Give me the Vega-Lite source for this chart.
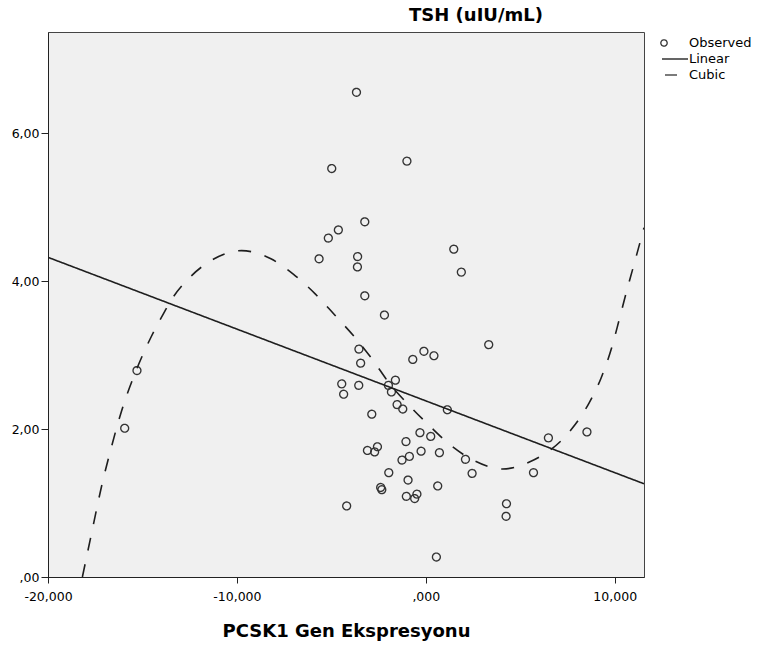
{
  "$schema": "https://vega.github.io/schema/vega-lite/v6.json",
  "autosize": "none",
  "width": 596,
  "height": 545,
  "padding": {"left": 48, "top": 32, "right": 113, "bottom": 71},
  "background": "white",
  "config": {
    "font": "DejaVu Sans",
    "view": {"fill": "#F0F0F0", "stroke": "#444444", "strokeWidth": 1},
    "axis": {
      "grid": false,
      "domainColor": "#222222",
      "tickColor": "#222222",
      "labelColor": "#000000",
      "labelFont": "DejaVu Sans",
      "labelFontSize": 12.5
    }
  },
  "title": {
    "text": "TSH (uIU/mL)",
    "font": "DejaVu Sans",
    "fontSize": 18,
    "fontWeight": "bold",
    "color": "#000000",
    "anchor": "middle",
    "frame": "group",
    "dx": 130,
    "dy": 18,
    "baseline": "alphabetic",
    "offset": 11
  },
  "data": {
    "values": [
      {"x": -3.67, "y": 6.55, "series": "Observed"},
      {"x": -4.98, "y": 5.52, "series": "Observed"},
      {"x": -1.00, "y": 5.62, "series": "Observed"},
      {"x": -3.23, "y": 4.80, "series": "Observed"},
      {"x": -4.63, "y": 4.69, "series": "Observed"},
      {"x": -5.16, "y": 4.58, "series": "Observed"},
      {"x": -5.65, "y": 4.30, "series": "Observed"},
      {"x": -3.61, "y": 4.33, "series": "Observed"},
      {"x": -3.62, "y": 4.19, "series": "Observed"},
      {"x": 1.48, "y": 4.43, "series": "Observed"},
      {"x": 1.88, "y": 4.12, "series": "Observed"},
      {"x": -3.23, "y": 3.80, "series": "Observed"},
      {"x": -2.19, "y": 3.54, "series": "Observed"},
      {"x": 3.33, "y": 3.14, "series": "Observed"},
      {"x": -3.54, "y": 3.08, "series": "Observed"},
      {"x": -3.45, "y": 2.89, "series": "Observed"},
      {"x": -0.69, "y": 2.94, "series": "Observed"},
      {"x": -0.10, "y": 3.05, "series": "Observed"},
      {"x": 0.43, "y": 2.99, "series": "Observed"},
      {"x": -4.45, "y": 2.61, "series": "Observed"},
      {"x": -4.35, "y": 2.47, "series": "Observed"},
      {"x": -3.55, "y": 2.59, "series": "Observed"},
      {"x": -1.61, "y": 2.66, "series": "Observed"},
      {"x": -1.98, "y": 2.59, "series": "Observed"},
      {"x": -1.82, "y": 2.50, "series": "Observed"},
      {"x": -1.52, "y": 2.33, "series": "Observed"},
      {"x": -1.22, "y": 2.27, "series": "Observed"},
      {"x": 1.14, "y": 2.26, "series": "Observed"},
      {"x": -2.86, "y": 2.20, "series": "Observed"},
      {"x": 6.49, "y": 1.88, "series": "Observed"},
      {"x": -0.31, "y": 1.95, "series": "Observed"},
      {"x": 0.26, "y": 1.90, "series": "Observed"},
      {"x": -1.05, "y": 1.83, "series": "Observed"},
      {"x": -3.09, "y": 1.71, "series": "Observed"},
      {"x": -2.56, "y": 1.76, "series": "Observed"},
      {"x": -2.71, "y": 1.69, "series": "Observed"},
      {"x": -0.25, "y": 1.70, "series": "Observed"},
      {"x": 0.72, "y": 1.68, "series": "Observed"},
      {"x": -0.87, "y": 1.63, "series": "Observed"},
      {"x": -1.26, "y": 1.58, "series": "Observed"},
      {"x": 2.10, "y": 1.59, "series": "Observed"},
      {"x": 2.45, "y": 1.40, "series": "Observed"},
      {"x": 5.70, "y": 1.41, "series": "Observed"},
      {"x": -1.96, "y": 1.41, "series": "Observed"},
      {"x": -0.94, "y": 1.31, "series": "Observed"},
      {"x": 0.63, "y": 1.23, "series": "Observed"},
      {"x": -2.39, "y": 1.21, "series": "Observed"},
      {"x": -2.33, "y": 1.18, "series": "Observed"},
      {"x": -1.03, "y": 1.09, "series": "Observed"},
      {"x": -0.47, "y": 1.12, "series": "Observed"},
      {"x": -0.59, "y": 1.06, "series": "Observed"},
      {"x": -4.19, "y": 0.96, "series": "Observed"},
      {"x": 4.27, "y": 0.99, "series": "Observed"},
      {"x": 4.25, "y": 0.82, "series": "Observed"},
      {"x": 0.56, "y": 0.27, "series": "Observed"},
      {"x": -15.29, "y": 2.79, "series": "Observed"},
      {"x": -15.94, "y": 2.01, "series": "Observed"},
      {"x": 8.53, "y": 1.96, "series": "Observed"},

      {"x": -20.0, "y": 4.32, "series": "Linear"},
      {"x": 11.55, "y": 1.26, "series": "Linear"},

      {"x": -18.18, "y": 0.00, "series": "Cubic"},
      {"x": -17.62, "y": 0.68, "series": "Cubic"},
      {"x": -17.17, "y": 1.22, "series": "Cubic"},
      {"x": -16.68, "y": 1.72, "series": "Cubic"},
      {"x": -16.11, "y": 2.24, "series": "Cubic"},
      {"x": -15.32, "y": 2.80, "series": "Cubic"},
      {"x": -14.53, "y": 3.25, "series": "Cubic"},
      {"x": -13.82, "y": 3.59, "series": "Cubic"},
      {"x": -13.38, "y": 3.78, "series": "Cubic"},
      {"x": -12.41, "y": 4.07, "series": "Cubic"},
      {"x": -11.2, "y": 4.30, "series": "Cubic"},
      {"x": -9.75, "y": 4.41, "series": "Cubic"},
      {"x": -8.2, "y": 4.30, "series": "Cubic"},
      {"x": -7.0, "y": 4.09, "series": "Cubic"},
      {"x": -5.83, "y": 3.82, "series": "Cubic"},
      {"x": -4.82, "y": 3.54, "series": "Cubic"},
      {"x": -3.76, "y": 3.24, "series": "Cubic"},
      {"x": -2.80, "y": 2.93, "series": "Cubic"},
      {"x": -1.91, "y": 2.61, "series": "Cubic"},
      {"x": -0.85, "y": 2.31, "series": "Cubic"},
      {"x": 0.21, "y": 2.04, "series": "Cubic"},
      {"x": 1.27, "y": 1.79, "series": "Cubic"},
      {"x": 2.50, "y": 1.58, "series": "Cubic"},
      {"x": 4.06, "y": 1.46, "series": "Cubic"},
      {"x": 5.54, "y": 1.56, "series": "Cubic"},
      {"x": 7.72, "y": 2.00, "series": "Cubic"},
      {"x": 8.64, "y": 2.35, "series": "Cubic"},
      {"x": 9.28, "y": 2.69, "series": "Cubic"},
      {"x": 9.83, "y": 3.09, "series": "Cubic"},
      {"x": 10.26, "y": 3.50, "series": "Cubic"},
      {"x": 10.66, "y": 3.89, "series": "Cubic"},
      {"x": 11.06, "y": 4.26, "series": "Cubic"},
      {"x": 11.55, "y": 4.72, "series": "Cubic"}
    ]
  },
  "encoding": {
    "x": {
      "field": "x",
      "type": "quantitative",
      "scale": {"domain": [-20, 11.55], "nice": false, "zero": false},
      "axis": {
        "title": "PCSK1 Gen Ekspresyonu",
        "titleFont": "DejaVu Sans",
        "titleFontSize": 18,
        "titleFontWeight": "bold",
        "titleColor": "#000000",
        "titlePadding": 20,
        "values": [-20, -10, 0, 10],
        "tickSize": 6,
        "labelPadding": 7,
        "labelFlush": false,
        "labelOverlap": false,
        "labelExpr": "datum.value === 0 ? ',000' : (datum.value < 0 ? '-' : '') + replace(format(abs(datum.value), '.3f'), '.', ',')"
      }
    },
    "y": {
      "field": "y",
      "type": "quantitative",
      "scale": {"domain": [0, 7.365], "nice": false, "zero": true},
      "axis": {
        "title": null,
        "values": [0, 2, 4, 6],
        "tickSize": 7,
        "labelPadding": 2,
        "labelFlush": false,
        "labelOverlap": false,
        "labelExpr": "datum.value === 0 ? ',00' : replace(format(datum.value, '.2f'), '.', ',')"
      }
    },
    "strokeDash": {
      "field": "series",
      "type": "nominal",
      "scale": {
        "domain": ["Observed", "Linear", "Cubic"],
        "range": [[1, 0], [1, 0], [13, 14]]
      },
      "legend": {
        "title": null,
        "orient": "right",
        "offset": 12,
        "padding": 4,
        "symbolSize": 49,
        "symbolStrokeWidth": 1.3,
        "symbolStrokeColor": "#333333",
        "symbolFillColor": "transparent",
        "labelFont": "DejaVu Sans",
        "labelFontSize": 13,
        "labelColor": "#000000",
        "labelOffset": 15,
        "rowPadding": 2,
        "encode": {
          "symbols": {
            "update": {
              "shape": {"signal": "datum.value === 'Observed' ? 'circle' : 'stroke'"},
              "size": {"signal": "datum.value === 'Observed' ? 40 : (datum.value === 'Linear' ? 676 : 144)"},
              "x": {"signal": "datum.value === 'Observed' ? 4 : (datum.value === 'Linear' ? 15 : 11)"}
            }
          }
        }
      }
    }
  },
  "layer": [
    {
      "transform": [{"filter": "datum.series === 'Observed'"}],
      "mark": {
        "type": "point",
        "shape": "circle",
        "filled": false,
        "size": 62,
        "strokeWidth": 1.35,
        "color": "#333333",
        "opacity": 1
      }
    },
    {
      "transform": [{"filter": "datum.series !== 'Observed'"}],
      "mark": {
        "type": "line",
        "color": "#1e1e1e",
        "strokeWidth": 1.6,
        "interpolate": "monotone",
        "clip": true
      }
    }
  ]
}
